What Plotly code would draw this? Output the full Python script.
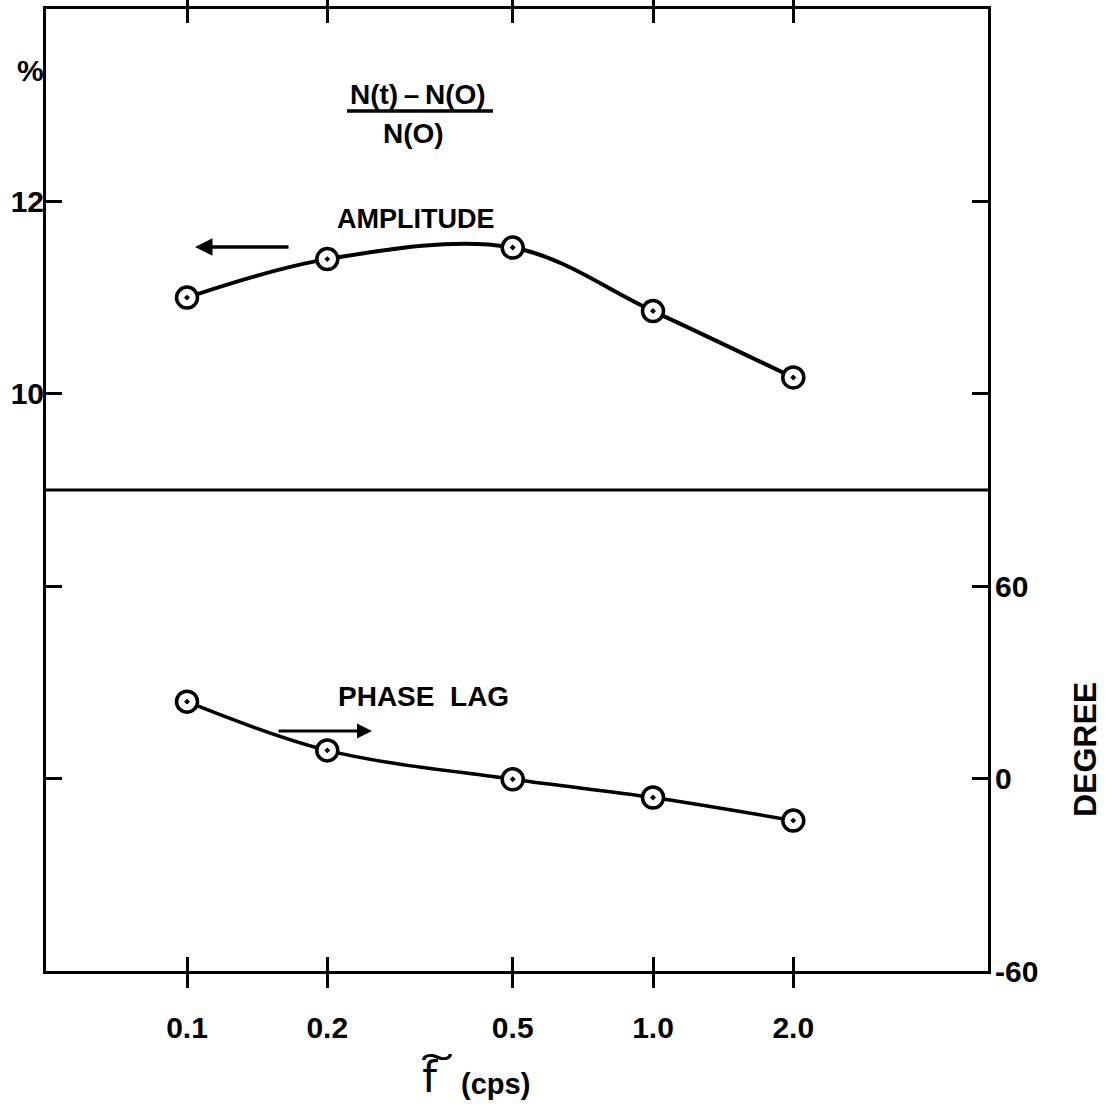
import plotly.graph_objects as go

# Frequency of the applied oscillation (cps)
freq = [0.1, 0.2, 0.5, 1.0, 2.0]
# Relative amplitude (N(t)-N(0))/N(0), percent
amplitude = [11.0, 11.4, 11.52, 10.86, 10.17]
# Phase lag, degrees
phase_lag = [24.0, 8.8, -0.2, -5.9, -13.1]

x_ticks = [0.1, 0.2, 0.5, 1.0, 2.0]
x_ticktext = ["0.1", "0.2", "0.5", "1.0", "2.0"]
amp_ticks = [6, 8, 10, 12]
amp_ticktext = ["", "", "10", "12"]
deg_ticks = [-60, 0, 60, 120, 180]
deg_ticktext = ["-60", "0", "60", "", ""]

FONT = "Liberation Sans"
INK = "black"

W, H = 1106, 1106
L, R, T, B = 46, 118, 9, 135
pw, ph = W - L - R, H - T - B


def px(xp):
    return (xp - L) / pw


def py(yp):
    return (H - B - yp) / ph


marker = dict(symbol="circle-dot", size=21, color="white",
              line=dict(color=INK, width=3.5))

fig = go.Figure()
fig.add_trace(go.Scatter(
    x=freq, y=amplitude, mode="lines+markers",
    line=dict(color=INK, width=4, shape="spline", smoothing=1.0),
    marker=marker, yaxis="y", showlegend=False))
fig.add_trace(go.Scatter(
    x=freq, y=phase_lag, mode="lines+markers",
    line=dict(color=INK, width=3.5, shape="spline", smoothing=1.0),
    marker=marker, yaxis="y2", showlegend=False))

tickfont = dict(size=30, family=FONT, color=INK, weight=700)

fig.update_layout(
    width=W, height=H,
    margin=dict(l=L, r=R, t=T, b=B, autoexpand=False),
    paper_bgcolor="white", plot_bgcolor="white",
    font=dict(family=FONT, color=INK, size=28, weight=700),
    xaxis=dict(
        type="log", range=[-1.3026, 0.7189], automargin=False,
        tickvals=x_ticks, ticktext=x_ticktext,
        ticks="inside", ticklen=14, tickwidth=2.5, tickcolor=INK,
        showline=True, linewidth=3, linecolor=INK, mirror="allticks",
        showgrid=False, zeroline=False,
        tickfont=tickfont, ticklabelstandoff=28,
    ),
    yaxis=dict(
        range=[4, 14], automargin=False,
        tickvals=amp_ticks, ticktext=amp_ticktext,
        ticks="inside", ticklen=16, tickwidth=2.5, tickcolor=INK,
        showline=True, linewidth=3, linecolor=INK, mirror="allticks",
        showgrid=False, zeroline=False,
        tickfont=tickfont, ticklabelstandoff=-7,
    ),
    yaxis2=dict(
        range=[-60, 240], overlaying="y", side="right", automargin=False,
        tickvals=deg_ticks, ticktext=deg_ticktext,
        ticks="", showline=False, showgrid=False, zeroline=False,
        tickfont=tickfont, ticklabelstandoff=6,
    ),
)

# divider between the amplitude and phase panels
fig.add_shape(type="line", xref="paper", yref="y", x0=0, x1=1, y0=9, y1=9,
              line=dict(color=INK, width=3))

# fraction bar of the ordinate definition
fig.add_shape(type="line", xref="paper", yref="paper",
              x0=px(347), x1=px(493), y0=py(111), y1=py(111),
              line=dict(color=INK, width=3.5))


def label(text, xp, yp, size, family=FONT, weight=700, **kw):
    kw.setdefault("yanchor", "middle")
    kw.setdefault("xanchor", "center")
    fig.add_annotation(text=text, x=px(xp), y=py(yp), xref="paper", yref="paper",
                       showarrow=False,
                       font=dict(size=size, family=family, color=INK, weight=weight), **kw)


label("%", 30, 71, 30)
label("N(t)\u2009\u2013\u2009N(O)", 418, 95, 28)
label("N(O)", 413, 133, 28)
label("AMPLITUDE", 416, 219, 27)
label("PHASE\u00a0\u00a0LAG", 423, 696, 28)
label("DEGREE", 1085, 750, 32, textangle=-90)
# abscissa: f with a wide tilde accent, then the unit
label("f\u0360\u2009", 420, 1077, 42, family="DejaVu Sans", weight=400, xanchor="left")
label("(cps)", 495, 1084, 29)

# direction arrows pointing to the axis each curve is read on
fig.add_annotation(x=px(195), y=py(247), xref="paper", yref="paper",
                   ax=95, ay=0, showarrow=True, arrowhead=2, arrowsize=1,
                   arrowwidth=3.5, arrowcolor=INK, text="")
fig.add_annotation(x=px(372), y=py(731), xref="paper", yref="paper",
                   ax=-95, ay=0, showarrow=True, arrowhead=2, arrowsize=1,
                   arrowwidth=3, arrowcolor=INK, text="")

fig.write_html("out.html")
